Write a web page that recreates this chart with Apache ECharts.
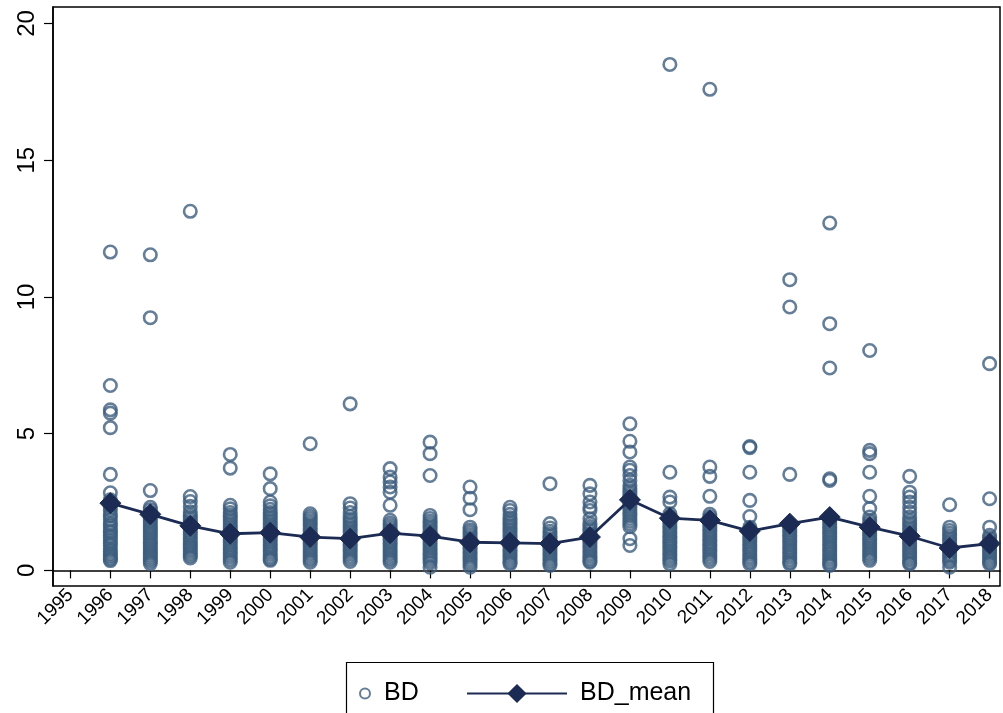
<!DOCTYPE html>
<html>
<head>
<meta charset="utf-8">
<script src="https://cdn.jsdelivr.net/npm/echarts@6/dist/echarts.min.js"></script>
<style>
  html, body { margin: 0; padding: 0; background: #fff; }
  #chart { width: 1003px; height: 713px; }
</style>
</head>
<body>
<div id="chart"></div>
<script>
// Survey years with observations
const years = [1996, 1997, 1998, 1999, 2000, 2001, 2002, 2003, 2004, 2005, 2006, 2007,
               2008, 2009, 2010, 2011, 2012, 2013, 2014, 2015, 2016, 2017, 2018];

// Individual BD observations, one list per year (same order as `years`)
const bdValues = [
  [11.64, 6.76, 5.87, 5.75, 5.22, 3.51, 2.84, 2.58, 2.45, 2.31, 2.2, 2.05, 1.98, 1.85, 1.72, 1.66, 1.55, 1.44, 1.38, 1.27, 1.19, 1.08, 0.98, 0.9, 0.78, 0.7, 0.62, 0.55, 0.48, 0.41, 0.36],
  [11.54, 9.24, 2.92, 2.31, 2.22, 2.1, 2.02, 1.93, 1.84, 1.75, 1.66, 1.58, 1.5, 1.41, 1.33, 1.24, 1.15, 1.06, 0.98, 0.9, 0.82, 0.74, 0.66, 0.58, 0.5, 0.42, 0.34, 0.25],
  [13.13, 2.7, 2.52, 2.34, 2.14, 2.02, 1.93, 1.84, 1.75, 1.66, 1.57, 1.48, 1.39, 1.3, 1.21, 1.12, 1.03, 0.94, 0.86, 0.78, 0.7, 0.62, 0.54, 0.46],
  [4.24, 3.74, 2.38, 2.25, 2.12, 2.02, 1.93, 1.84, 1.74, 1.65, 1.56, 1.47, 1.38, 1.29, 1.2, 1.11, 1.02, 0.93, 0.84, 0.75, 0.66, 0.57, 0.48, 0.39, 0.3],
  [3.53, 2.99, 2.5, 2.36, 2.23, 2.12, 2.03, 1.94, 1.85, 1.76, 1.67, 1.58, 1.49, 1.4, 1.31, 1.22, 1.13, 1.04, 0.95, 0.86, 0.77, 0.68, 0.59, 0.5, 0.42, 0.37],
  [4.63, 2.07, 1.98, 1.9, 1.81, 1.72, 1.63, 1.54, 1.45, 1.36, 1.27, 1.18, 1.09, 1.0, 0.91, 0.82, 0.73, 0.64, 0.55, 0.46, 0.38, 0.3],
  [6.09, 2.44, 2.28, 2.12, 1.97, 1.86, 1.77, 1.68, 1.59, 1.5, 1.41, 1.32, 1.23, 1.14, 1.05, 0.96, 0.87, 0.78, 0.69, 0.6, 0.51, 0.42, 0.33],
  [3.72, 3.41, 3.23, 3.05, 2.86, 2.38, 1.83, 1.72, 1.63, 1.54, 1.45, 1.36, 1.27, 1.18, 1.09, 1.0, 0.91, 0.82, 0.73, 0.64, 0.55, 0.46, 0.38, 0.3],
  [4.69, 4.27, 3.47, 2.01, 1.9, 1.8, 1.71, 1.62, 1.53, 1.44, 1.35, 1.26, 1.17, 1.08, 0.99, 0.9, 0.81, 0.72, 0.63, 0.54, 0.45, 0.36, 0.27, 0.12],
  [3.05, 2.64, 2.22, 1.58, 1.48, 1.39, 1.3, 1.21, 1.12, 1.03, 0.94, 0.85, 0.76, 0.67, 0.58, 0.49, 0.4, 0.31, 0.22, 0.12],
  [2.31, 2.19, 2.05, 1.92, 1.82, 1.73, 1.64, 1.55, 1.46, 1.37, 1.28, 1.19, 1.1, 1.01, 0.92, 0.83, 0.74, 0.65, 0.56, 0.47, 0.38, 0.3, 0.24],
  [3.17, 1.71, 1.55, 1.43, 1.34, 1.25, 1.16, 1.07, 0.98, 0.89, 0.8, 0.71, 0.62, 0.53, 0.44, 0.35, 0.26, 0.18],
  [3.11, 2.8, 2.5, 2.31, 2.19, 1.89, 1.71, 1.6, 1.51, 1.42, 1.33, 1.24, 1.15, 1.06, 0.97, 0.88, 0.79, 0.7, 0.61, 0.52, 0.43, 0.35, 0.3],
  [5.36, 4.72, 4.33, 3.78, 3.66, 3.47, 3.29, 3.11, 3.0, 2.9, 2.8, 2.7, 2.6, 2.5, 2.4, 2.3, 2.2, 2.1, 2.0, 1.9, 1.8, 1.7, 1.6, 1.16, 0.91],
  [18.5, 3.59, 2.68, 2.5, 2.07, 1.97, 1.88, 1.79, 1.7, 1.61, 1.52, 1.43, 1.34, 1.25, 1.16, 1.07, 0.98, 0.89, 0.8, 0.71, 0.62, 0.53, 0.44, 0.35, 0.24],
  [17.59, 3.78, 3.44, 2.71, 2.05, 1.95, 1.86, 1.77, 1.68, 1.59, 1.5, 1.41, 1.32, 1.23, 1.14, 1.05, 0.96, 0.87, 0.78, 0.69, 0.6, 0.51, 0.42, 0.33],
  [4.53, 4.49, 3.59, 2.56, 1.97, 1.58, 1.49, 1.4, 1.31, 1.22, 1.13, 1.04, 0.95, 0.86, 0.77, 0.68, 0.59, 0.5, 0.41, 0.32, 0.24],
  [10.63, 9.63, 3.51, 1.65, 1.56, 1.47, 1.38, 1.29, 1.2, 1.11, 1.02, 0.93, 0.84, 0.75, 0.66, 0.57, 0.48, 0.39, 0.3, 0.24],
  [12.7, 9.02, 7.4, 3.35, 3.29, 1.95, 1.85, 1.76, 1.67, 1.58, 1.49, 1.4, 1.31, 1.22, 1.13, 1.04, 0.95, 0.86, 0.77, 0.68, 0.59, 0.5, 0.41, 0.32, 0.24, 0.18],
  [8.04, 4.39, 4.27, 3.59, 2.71, 2.26, 1.95, 1.82, 1.72, 1.63, 1.54, 1.45, 1.36, 1.27, 1.18, 1.09, 1.0, 0.91, 0.82, 0.73, 0.64, 0.55, 0.46, 0.37],
  [3.44, 2.86, 2.68, 2.5, 2.31, 2.13, 1.95, 1.82, 1.72, 1.63, 1.54, 1.45, 1.36, 1.27, 1.18, 1.09, 1.0, 0.91, 0.82, 0.73, 0.64, 0.55, 0.46, 0.37, 0.28, 0.24],
  [2.4, 1.58, 1.46, 1.36, 1.27, 1.18, 1.09, 1.0, 0.91, 0.82, 0.73, 0.64, 0.55, 0.46, 0.37, 0.3, 0.12],
  [7.56, 2.62, 1.58, 1.28, 1.19, 1.1, 1.01, 0.92, 0.83, 0.74, 0.65, 0.56, 0.47, 0.38, 0.3, 0.24]
];

// Yearly mean of BD
const bdMean = [2.46, 2.05, 1.63, 1.34, 1.38, 1.22, 1.16, 1.36, 1.25, 1.03, 1.01, 0.98,
                1.22, 2.58, 1.91, 1.83, 1.44, 1.71, 1.95, 1.58, 1.25, 0.82, 0.98];

// Tick marks
const xTickYears = [1995, 1996, 1997, 1998, 1999, 2000, 2001, 2002, 2003, 2004, 2005, 2006,
                    2007, 2008, 2009, 2010, 2011, 2012, 2013, 2014, 2015, 2016, 2017, 2018];
const yTicks = [0, 5, 10, 15, 20];

const scatterPoints = [];
years.forEach((yr, i) => bdValues[i].forEach(v => scatterPoints.push([yr, v])));
const meanPoints = years.map((yr, i) => [yr, bdMean[i]]);

const ringColor = '#3d5e7e';
const meanColor = '#1c2b53';
const font = 'Liberation Sans, Arial, Helvetica, sans-serif';

const chart = echarts.init(document.getElementById('chart'), null, { renderer: 'canvas' });
chart.setOption({
  animation: false,
  backgroundColor: '#fff',
  grid: {
    left: 53, right: 3, top: 7, bottom: 127,
    show: true, borderColor: '#000', borderWidth: 1.5, backgroundColor: 'transparent'
  },
  xAxis: {
    type: 'value',
    min: 1994.565,
    max: 2018.26,
    axisLine: { show: true, lineStyle: { color: '#000', width: 1.5 } },
    splitLine: { show: false },
    axisTick: { show: true, customValues: xTickYears, length: 8, lineStyle: { color: '#000', width: 1.2 } },
    axisLabel: {
      show: true, customValues: xTickYears, rotate: 45, margin: 6,
      fontSize: 19, fontFamily: font, color: '#000',
      formatter: v => String(v)
    }
  },
  yAxis: {
    type: 'value',
    min: -0.57,
    max: 20.6,
    axisLine: { show: true, lineStyle: { color: '#000', width: 1.5 } },
    splitLine: { show: false },
    axisTick: { show: true, customValues: yTicks, length: 9, lineStyle: { color: '#000', width: 1.2 } },
    axisLabel: {
      show: true, customValues: yTicks, rotate: 90, margin: 14,
      fontSize: 24, fontFamily: font, color: '#000',
      formatter: v => String(v)
    }
  },
  legend: [
    {
      data: [{ name: 'BD', icon: 'circle' }],
      left: 354, top: 676,
      itemWidth: 28, itemHeight: 10,
      textStyle: { fontSize: 25, fontFamily: font, color: '#000' }
    },
    {
      data: ['BD_mean'],
      left: 461, top: 676,
      itemWidth: 100, itemHeight: 24,
      textStyle: { fontSize: 25, fontFamily: font, color: '#000', padding: [0, 0, 0, 8] }
    }
  ],
  graphic: [
    {
      type: 'rect',
      shape: { x: 346.5, y: 662.5, width: 367, height: 70 },
      style: { fill: 'none', stroke: '#000', lineWidth: 1.2 },
      silent: true
    }
  ],
  series: [
    {
      name: 'BD',
      type: 'scatter',
      data: scatterPoints,
      symbol: 'circle',
      symbolSize: 12.5,
      itemStyle: { color: 'rgba(255,255,255,0)', borderColor: ringColor, borderWidth: 2.6 },
      z: 2
    },
    {
      name: 'BD_mean',
      type: 'line',
      data: meanPoints,
      symbol: 'diamond',
      symbolSize: [21, 21],
      showAllSymbol: true,
      lineStyle: { color: meanColor, width: 2.8 },
      itemStyle: { color: meanColor, borderColor: meanColor },
      z: 3
    }
  ]
});
</script>
</body>
</html>
